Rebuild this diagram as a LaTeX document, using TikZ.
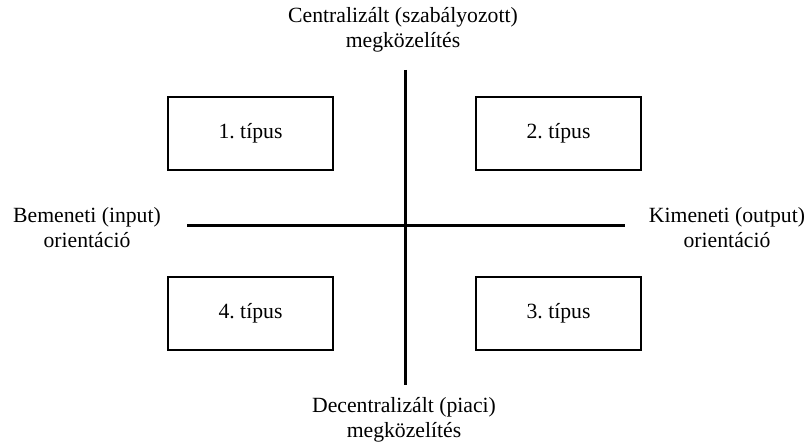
\documentclass[tikz,border=0pt]{standalone}
\usepackage{fontspec}
\setmainfont{Liberation Serif}
\usepackage{tikz}
\frenchspacing

\tikzset{
	tipus/.style={draw, line width=1.1pt, minimum width=82.5pt, minimum height=36.5pt, inner sep=0pt},
	felirat/.style={align=center, inner sep=0pt},
	tengely/.style={line width=1.5pt}
}

\begin{document}
\begin{tikzpicture}[
		x=0.5pt,
		y=-0.5pt,
		font=\fontsize{10.85}{12.5}\selectfont
	]
		\useasboundingbox (0,0) rectangle (810,444);
		% tengelyek
		\coordinate (fent) at (405,70);
		\coordinate (lent) at (405,385);
		\coordinate (bal) at (187,226);
		\coordinate (jobb) at (625,226);
		\draw[tengely] (fent) -- (lent);
		\draw[tengely] (bal) -- (jobb);
		% tipusok
		\node[tipus] (t1) at (250.5,133.5) {1. típus};
		\node[tipus] (t2) at (558.5,133.5) {2. típus};
		\node[tipus] (t3) at (558.5,313.5) {3. típus};
		\node[tipus] (t4) at (250.5,313.5) {4. típus};
		% feliratok
		\node[felirat] (central) at (403,30) {Centralizált (szabályozott)\\megközelítés};
		\node[felirat] (decentral) at (404,420) {Decentralizált (piaci)\\megközelítés};
		\node[felirat] (bemenet) at (87,228) {Bemeneti (input)\\orientáció};
		\node[felirat] (kimenet) at (727,228) {Kimeneti (output)\\orientáció};
	\end{tikzpicture}
\end{document}
